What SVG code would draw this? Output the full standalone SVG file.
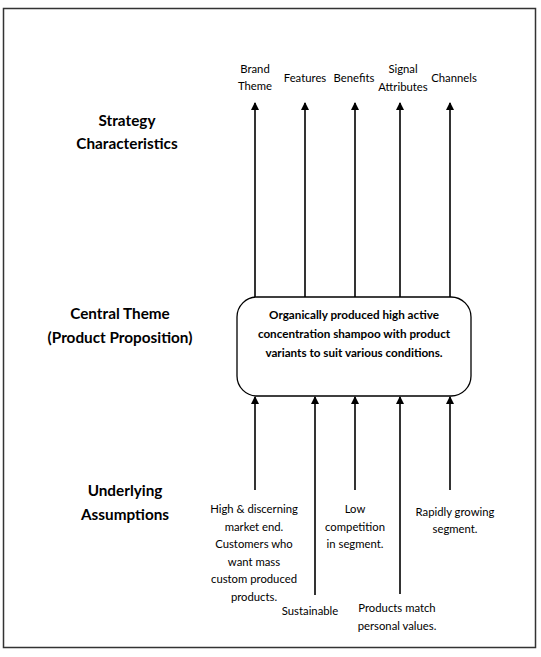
<svg xmlns="http://www.w3.org/2000/svg" width="541" height="657" viewBox="0 0 541 657">
<style>
text{font-family:Lato,"Liberation Sans",sans-serif;fill:#000;text-anchor:middle}
.s{font-size:11.3px}
.h{font-size:15.3px;font-weight:bold}
.b{font-size:11.7px;font-weight:bold}
.c{stroke:#000;stroke-width:1.6;fill:none;marker-end:url(#ah)}
</style>
<defs>
<marker id="ah" markerWidth="8" markerHeight="10" refX="7" refY="4" orient="auto" markerUnits="userSpaceOnUse" viewBox="0 0 8 10">
<path d="M0,0 L8,4 L0,8 z" fill="#000"/>
</marker>
</defs>
<rect x="3.5" y="8.5" width="532" height="639" fill="#fff" stroke="#333" stroke-width="1.5"/>
<g id="connectors">
<line class="c" x1="255" y1="297" x2="255" y2="103"/>
<line class="c" x1="305" y1="297" x2="305" y2="103"/>
<line class="c" x1="355" y1="297" x2="355" y2="103"/>
<line class="c" x1="400" y1="297" x2="400" y2="103"/>
<line class="c" x1="450" y1="297" x2="450" y2="103"/>
<line class="c" x1="255" y1="490" x2="255" y2="397"/>
<line class="c" x1="315" y1="595" x2="315" y2="397"/>
<line class="c" x1="355" y1="490" x2="355" y2="397"/>
<line class="c" x1="400" y1="594" x2="400" y2="397"/>
<line class="c" x1="450" y1="490" x2="450" y2="397"/>
</g>
<g id="label-strategy"><text class="h" x="127" y="126">Strategy</text><text class="h" x="127" y="149">Characteristics</text></g>
<g id="label-central"><text class="h" x="120" y="319">Central Theme</text><text class="h" x="120" y="343">(Product Proposition)</text></g>
<g id="label-underlying"><text class="h" x="125" y="496">Underlying</text><text class="h" x="125" y="520">Assumptions</text></g>
<g id="brand"><text class="s" x="255" y="73">Brand</text><text class="s" x="255" y="90">Theme</text></g>
<g id="features"><text class="s" x="305" y="82">Features</text></g>
<g id="benefits"><text class="s" x="354" y="82">Benefits</text></g>
<g id="signal"><text class="s" x="403" y="73">Signal</text><text class="s" x="403" y="91">Attributes</text></g>
<g id="channels"><text class="s" x="454" y="82">Channels</text></g>
<g id="central">
<rect x="237" y="297" width="234" height="99" rx="20" ry="20" fill="#fff" stroke="#000" stroke-width="1.3"/>
<text class="b" x="354" y="319">Organically produced high active</text>
<text class="b" x="354" y="338">concentration shampoo with product</text>
<text class="b" x="354" y="357">variants to suit various conditions.</text>
</g>
<g id="a1"><text class="s" x="254" y="513">High &amp; discerning</text><text class="s" x="254" y="530.5">market end.</text><text class="s" x="254" y="548">Customers who</text><text class="s" x="254" y="565.5">want mass</text><text class="s" x="254" y="583">custom produced</text><text class="s" x="254" y="600.5">products.</text></g>
<g id="a2"><text class="s" x="310" y="615">Sustainable</text></g>
<g id="a3"><text class="s" x="355" y="513">Low</text><text class="s" x="355" y="530.5">competition</text><text class="s" x="355" y="548">in segment.</text></g>
<g id="a4"><text class="s" x="397" y="612">Products match</text><text class="s" x="397" y="630">personal values.</text></g>
<g id="a5"><text class="s" x="455" y="516">Rapidly growing</text><text class="s" x="455" y="533">segment.</text></g>
</svg>
